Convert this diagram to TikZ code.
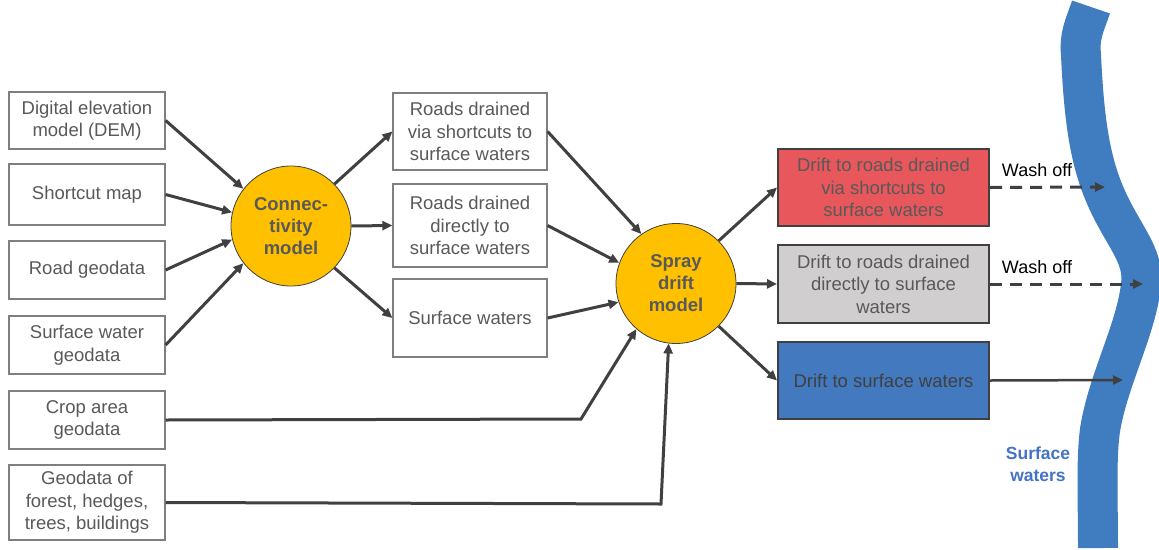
\documentclass[tikz,border=0pt]{standalone}
\usepackage{fontspec}
\setmainfont{Liberation Sans}
\usetikzlibrary{arrows.meta}
\definecolor{txt}{HTML}{595959}
\definecolor{arr}{HTML}{404040}
\definecolor{bord}{HTML}{7F7F7F}
\definecolor{gold}{HTML}{FFC000}
\definecolor{redb}{HTML}{E8575B}
\definecolor{grayb}{HTML}{D0CECE}
\definecolor{blueb}{HTML}{4279BF}
\definecolor{river}{HTML}{3F7CC0}
\definecolor{swtext}{HTML}{4472C4}
\tikzset{
  base/.style={align=center, inner sep=0pt, text=txt, font=\fontsize{18.5}{22.5}\selectfont},
  inbox/.style={base, draw=bord, line width=1.2pt, fill=white, minimum width=156pt},
  midbox/.style={base, draw=bord, line width=1.2pt, fill=white, minimum width=154pt},
  outbox/.style={base, draw=arr, line width=2pt, minimum width=211pt},
  model/.style={base, circle, draw=arr, line width=0.8pt, fill=gold, minimum size=120pt, font=\fontsize{18.5}{22}\selectfont\bfseries},
  arrow/.style={draw=arr, line width=3pt, -{Triangle[length=10pt,width=9pt]}},
  lbl/.style={inner sep=0pt, text=black, font=\fontsize{18}{21}\selectfont}
}
\begin{document}
\begin{tikzpicture}[x=1pt,y=-1pt]
\useasboundingbox (0,0) rectangle (1159,549);
% river
\draw[river, line width=40pt] (1091,7) .. controls (1085,25) and (1079,35) .. (1081,55)
  .. controls (1084,120) and (1090,160) .. (1105,195)
  .. controls (1122,235) and (1145,255) .. (1141,285)
  .. controls (1136,330) and (1108,380) .. (1100,430)
  .. controls (1096,460) and (1098,500) .. (1098,548);
% left input boxes
\node[inbox, minimum height=57pt] (dem) at (87,120.5) {Digital elevation\\model (DEM)};
\node[inbox, minimum height=61pt] (sc) at (87,194.5) {Shortcut map};
\node[inbox, minimum height=58pt] (road) at (87,270) {Road geodata};
\node[inbox, minimum height=58pt] (swg) at (87,345) {Surface water\\geodata};
\node[inbox, minimum height=58pt] (crop) at (87,420) {Crop area\\geodata};
\node[inbox, minimum height=75pt] (forest) at (87,502.5) {Geodata of\\forest, hedges,\\trees, buildings};
% models
\node[model] (conn) at (291,226) {Connec-\\tivity\\model};
\node[model] (spray) at (676,283.5) {Spray\\drift\\model};
% middle boxes
\node[midbox, minimum height=77pt] (mid1) at (470,131.5) {Roads drained\\via shortcuts to\\surface waters};
\node[midbox, minimum height=83pt] (mid2) at (470,225.5) {Roads drained\\directly to\\surface waters};
\node[midbox, minimum height=78pt] (mid3) at (470,318) {Surface waters};
% output boxes
\node[outbox, fill=redb, minimum height=77pt] (red) at (883.5,187.5) {Drift to roads drained\\via shortcuts to\\surface waters};
\node[outbox, fill=grayb, minimum height=78pt] (gray) at (883.5,284) {Drift to roads drained\\directly to surface\\waters};
\node[outbox, fill=blueb, minimum height=77pt, text=arr] (blue) at (883.5,380.5) {Drift to surface waters};
% coordinates
\coordinate (cropbend) at (581,419);
\coordinate (forestbend) at (661,504);
\coordinate (w1) at (1105,187);
\coordinate (w2) at (1143,284);
\coordinate (w3) at (1123,380);
% arrows into connectivity model
\draw[arrow] (dem.east) -- (conn.142);
\draw[arrow] (sc.east) -- (conn.167);
\draw[arrow] (road.east) -- (conn.193);
\draw[arrow] (swg.east) -- (conn.218);
% connectivity outputs
\draw[arrow] (conn.44) -- (mid1.west);
\draw[arrow] (conn.0) -- (mid2.west);
\draw[arrow] (conn.-44) -- (mid3.west);
% spray inputs
\draw[arrow] (mid1.east) -- (spray.125);
\draw[arrow] (mid2.east) -- (spray.160);
\draw[arrow] (mid3.east) -- (spray.198);
\draw[arrow] (crop.east) -- (cropbend) -- (spray.229);
\draw[arrow] (forest.east) -- (forestbend) -- (spray.263);
% spray outputs
\draw[arrow] (spray.45) -- (red.west);
\draw[arrow] (spray.0) -- (gray.west);
\draw[arrow] (spray.-45) -- (blue.west);
% to river
\draw[arrow, dash pattern=on 12pt off 8pt] (red.east) -- (w1);
\draw[arrow, dash pattern=on 12pt off 8pt] (gray.east) -- (w2);
\draw[arrow, line width=2.5pt] (blue.east) -- (w3);
\node[lbl] (wo1) at (1037,170) {Wash off};
\node[lbl] (wo2) at (1037,267) {Wash off};
\node[inner sep=0pt, align=center, text=swtext, font=\fontsize{17.5}{22}\selectfont\bfseries] (swl) at (1038,464) {Surface\\waters};
\end{tikzpicture}
\end{document}
